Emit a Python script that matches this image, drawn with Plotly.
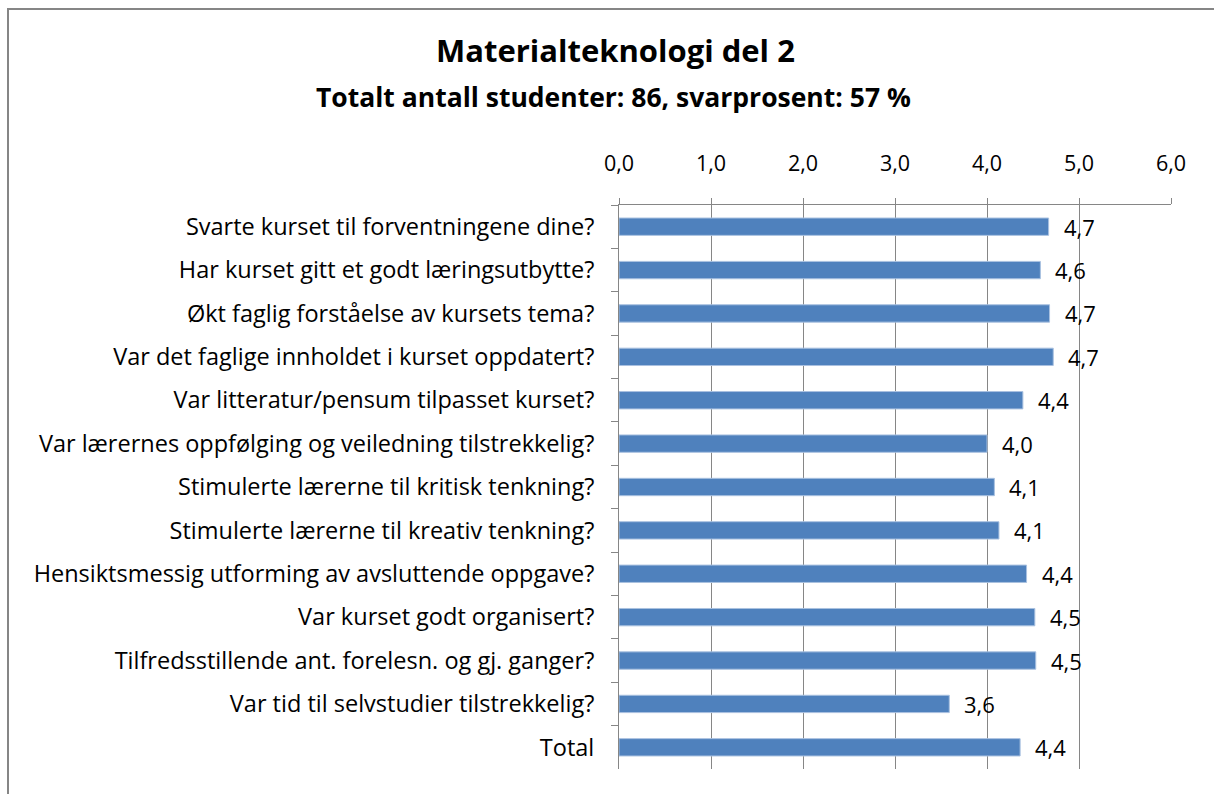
import plotly.graph_objects as go

categories = [
    "Svarte kurset til forventningene dine?",
    "Har kurset gitt et godt læringsutbytte?",
    "Økt faglig forståelse av kursets tema?",
    "Var det faglige innholdet i kurset oppdatert?",
    "Var litteratur/pensum tilpasset kurset?",
    "Var lærernes oppfølging og veiledning tilstrekkelig?",
    "Stimulerte lærerne til kritisk tenkning?",
    "Stimulerte lærerne til kreativ tenkning?",
    "Hensiktsmessig utforming av avsluttende oppgave?",
    "Var kurset godt organisert?",
    "Tilfredsstillende ant. forelesn. og gj. ganger?",
    "Var tid til selvstudier tilstrekkelig?",
    "Total",
]
values = [4.67, 4.58, 4.68, 4.72, 4.39, 4.00, 4.08, 4.13, 4.43, 4.52, 4.53, 3.59, 4.36]
tick_values = [0, 1, 2, 3, 4, 5, 6]
tick_labels = ["0,0", "1,0", "2,0", "3,0", "4,0", "5,0", "6,0"]
title_text = "Materialteknologi del 2"
subtitle_text = "Totalt antall studenter: 86, svarprosent: 57 %"

labels = [f"{v:.1f}".replace(".", ",") for v in values]

W, H = 1214, 794
ML, MR, MT, MB = 619, 43, 205, 25
FONT = "Open Sans, Lato, sans-serif"
GRID = "#868686"

fig = go.Figure()
fig.add_trace(go.Bar(
    y=categories, x=values, orientation="h",
    marker=dict(color="#4F81BD", line=dict(color="#A9C1E0", width=1)),
    hoverinfo="x+y",
))

for c, v, t in zip(categories, values, labels):
    fig.add_annotation(x=v, y=c, text=t, showarrow=False, xanchor="left",
                       xshift=13, yshift=0,
                       font=dict(size=22, color="#000000", family=FONT))

pw = W - ML - MR
ph = H - MT - MB
def px_x(p):
    return (p - ML) / pw
def px_y(p):
    return 1 - (p - MT) / ph

# outer chart border (left and top visible)
fig.add_shape(type="line", xref="paper", yref="paper",
              x0=px_x(8), x1=px_x(8), y0=px_y(8), y1=px_y(H + 5),
              line=dict(color="#868686", width=2))
fig.add_shape(type="line", xref="paper", yref="paper",
              x0=px_x(8), x1=px_x(W + 5), y0=px_y(9), y1=px_y(9),
              line=dict(color="#868686", width=2))

fig.add_annotation(xref="paper", yref="paper", x=px_x(615), y=px_y(50),
                   text=f"<b>{title_text}</b>", showarrow=False,
                   xanchor="center", yanchor="middle",
                   font=dict(size=31, color="#000000", family=FONT))
fig.add_annotation(xref="paper", yref="paper", x=px_x(613), y=px_y(97),
                   text=f"<b>{subtitle_text}</b>", showarrow=False,
                   xanchor="center", yanchor="middle",
                   font=dict(size=26.5, color="#000000", family=FONT))

fig.update_layout(
    width=W, height=H,
    margin=dict(l=ML, r=MR, t=MT, b=MB, pad=0),
    paper_bgcolor="white", plot_bgcolor="white",
    bargap=0.6, showlegend=False,
    font=dict(family=FONT, size=22, color="#000000"),
    xaxis=dict(side="top", range=[0, 6], tickvals=tick_values, ticktext=tick_labels,
               showgrid=True, gridcolor=GRID, gridwidth=1,
               showline=True, linecolor=GRID, linewidth=1,
               ticks="outside", ticklen=6, tickcolor=GRID,
               tickfont=dict(size=21.5, family=FONT), zeroline=False, fixedrange=True,
               ticklabelstandoff=18),
    yaxis=dict(autorange="reversed", type="category",
               showgrid=False, showline=True, linecolor=GRID, linewidth=1,
               ticks="outside", ticklen=7, tickcolor=GRID, tickson="boundaries",
               tickfont=dict(size=23.5, family=FONT), ticklabelstandoff=19),
)

fig.write_html("out.html", config={"displayModeBar": False},
               post_script="document.body.style.margin='0';")
